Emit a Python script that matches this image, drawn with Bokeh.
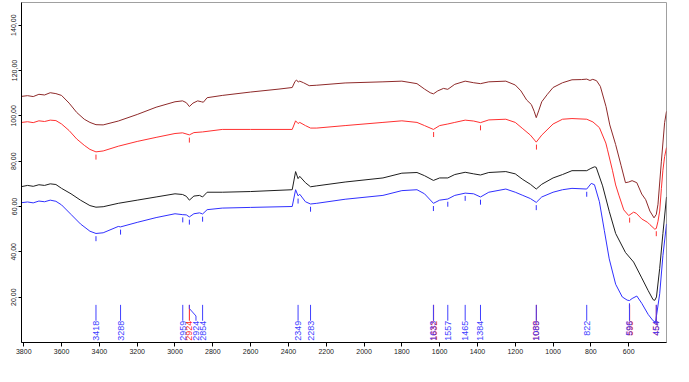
import numpy as np
from bokeh.plotting import figure
from bokeh.models import Range1d, FixedTicker, CustomJSTickFormatter
from bokeh.embed import file_html
from bokeh.resources import INLINE
from bokeh.core.properties import value

# ---------------- data ----------------
wn_brown = [3810, 3780, 3750, 3720, 3690, 3660, 3630, 3600, 3560, 3520, 3480, 3450, 3418, 3380,
            3300, 3200, 3100, 3000, 2960, 2940, 2924, 2905, 2880, 2860, 2850, 2830, 2750, 2600,
            2450, 2380, 2365, 2357, 2348, 2340, 2320, 2290, 2250, 2100, 1900, 1800, 1720, 1680,
            1650, 1633, 1610, 1580, 1557, 1520, 1465, 1420, 1384, 1340, 1250, 1200, 1170, 1140,
            1115, 1100, 1089, 1075, 1060, 1030, 1000, 950, 900, 850, 822, 805, 790, 770, 750,
            720, 700, 669, 640, 617, 600, 582, 557, 531, 510, 488, 466, 454, 445, 427, 410, 400]
val_brown = [108.6, 108.9, 108.5, 109.5, 109.2, 110.2, 109.8, 109.0, 105.6, 101.5, 98.5, 97.1, 96.1, 96.0,
             97.7, 100.6, 103.8, 106.2, 106.6, 105.8, 104.1, 105.6, 106.6, 106.2, 106.0, 108.0, 109.0, 110.5,
             111.8, 112.5, 115.2, 115.8, 114.9, 115.3, 114.6, 113.3, 113.5, 114.5, 115.0, 115.3, 114.2, 111.8,
             110.2, 109.7, 111.0, 112.1, 111.7, 113.9, 115.3, 114.6, 114.2, 115.0, 115.3, 113.6, 111.0, 107.0,
             105.0, 102.0, 99.2, 102.5, 106.2, 109.5, 112.5, 114.6, 115.9, 116.0, 116.2, 115.6, 116.1, 115.5, 113.0,
             104.1, 96.0, 87.3, 78.0, 70.5, 70.8, 71.4, 70.5, 65.5, 63.0, 58.0, 55.0, 56.5, 61.0, 80.0, 97.0, 102.0]

wn_red = [3810, 3780, 3750, 3720, 3690, 3660, 3630, 3600, 3560, 3520, 3480, 3450, 3418, 3380,
          3300, 3200, 3100, 3000, 2960, 2924, 2900, 2854, 2750, 2600, 2380, 2362, 2349, 2340,
          2310, 2283, 2250, 2100, 1900, 1800, 1720, 1680, 1633, 1600, 1557, 1520, 1465, 1420,
          1384, 1340, 1250, 1200, 1160, 1120, 1089, 1060, 1000, 950, 900, 822, 789, 755, 721,
          712, 686, 669, 652, 626, 600, 574, 560, 531, 500, 488, 462, 454, 445, 436, 427, 419, 410, 400]
val_red = [97.1, 97.4, 97.0, 97.8, 97.5, 98.1, 97.9, 96.4, 93.5, 89.8, 87.0, 85.2, 84.1, 84.5,
           86.6, 88.7, 90.5, 92.2, 92.5, 91.6, 92.6, 92.9, 94.0, 94.0, 94.0, 97.8, 96.6, 97.1,
           95.7, 94.6, 94.6, 95.7, 97.1, 97.8, 97.1, 95.7, 94.0, 95.7, 96.4, 97.1, 98.1, 97.7,
           97.0, 98.2, 98.5, 97.1, 94.3, 91.5, 88.4, 91.5, 96.4, 98.5, 98.8, 98.5, 97.3, 94.8, 88.0,
           85.0, 76.0, 69.5, 65.0, 58.5, 56.0, 57.5, 57.0, 54.5, 53.0, 52.0, 50.0, 50.3, 53.5, 58.0, 68.0, 76.0, 82.0, 86.0]

wn_black = [3810, 3780, 3750, 3720, 3690, 3660, 3630, 3600, 3550, 3500, 3450, 3418, 3380, 3300,
            3200, 3100, 3000, 2960, 2940, 2924, 2900, 2870, 2854, 2830, 2750, 2600, 2380, 2362,
            2349, 2340, 2310, 2283, 2250, 2100, 1900, 1800, 1720, 1680, 1633, 1600, 1557, 1520,
            1465, 1420, 1384, 1340, 1250, 1200, 1160, 1120, 1089, 1060, 1000, 950, 900, 822, 800,
            781, 772, 738, 703, 669, 617, 574, 531, 497, 471, 462, 453, 436, 419, 400]
val_black = [68.8, 69.3, 68.9, 69.6, 69.3, 70.0, 69.7, 68.0, 65.6, 62.8, 60.4, 59.7, 59.9, 61.4,
             62.8, 64.2, 65.6, 65.3, 64.5, 62.8, 64.6, 64.9, 64.2, 66.3, 66.3, 66.6, 67.4, 75.4,
             72.3, 73.3, 70.5, 68.7, 69.1, 70.8, 72.6, 74.7, 75.0, 73.6, 71.5, 72.6, 72.6, 74.1,
             75.1, 74.4, 73.9, 75.0, 75.4, 74.4, 71.9, 69.8, 67.7, 69.8, 72.6, 74.1, 75.8, 75.8, 76.8,
             77.5, 77.3, 69.1, 57.9, 48.1, 39.7, 35.5, 28.5, 22.9, 18.9, 18.6, 20.1, 32.7, 48.1, 64.2]

wn_blue = [3810, 3780, 3750, 3720, 3690, 3660, 3630, 3600, 3550, 3500, 3450, 3418, 3380, 3300,
           3288, 3200, 3100, 3000, 2959, 2940, 2924, 2900, 2870, 2854, 2830, 2750, 2600, 2380,
           2362, 2349, 2340, 2310, 2283, 2250, 2100, 1900, 1800, 1720, 1680, 1633, 1600, 1557,
           1520, 1465, 1420, 1384, 1340, 1250, 1200, 1160, 1120, 1089, 1060, 1000, 950, 900, 822,
           798, 781, 755, 729, 703, 669, 634, 608, 596, 582, 557, 531, 497, 471, 458, 436, 419, 400]
val_blue = [61.7, 62.0, 61.6, 62.4, 62.1, 62.8, 62.3, 60.7, 56.5, 52.3, 49.1, 48.1, 48.4, 51.2,
            51.0, 53.0, 55.1, 56.8, 56.4, 56.3, 55.4, 56.8, 57.2, 56.7, 58.6, 59.3, 59.6, 60.0,
            67.4, 64.7, 65.4, 62.1, 61.1, 61.4, 63.2, 64.9, 67.0, 67.4, 65.6, 61.4, 62.8, 63.3,
            64.9, 65.9, 65.6, 64.2, 66.3, 67.7, 66.3, 64.9, 63.5, 61.8, 64.2, 66.3, 67.4, 68.0, 67.7,
            70.2, 69.6, 62.1, 49.5, 36.9, 25.7, 20.1, 18.7, 18.5, 19.4, 20.5, 17.3, 12.4, 9.6, 8.9, 21.5, 38.3, 52.3]

peaks_red = [3418, 2924, 1632, 1384, 1088, 595, 454]
peaks_red_labelled = [2924, 1632, 1088, 595, 454]
peaks_blue = [3418, 3288, 2959, 2924, 2854, 2349, 2283, 1633, 1557, 1465, 1384, 1089, 822, 596, 454]

x_ticks = [3800, 3600, 3400, 3200, 3000, 2800, 2600, 2400, 2200, 2000, 1800, 1600, 1400, 1200, 1000, 800, 600]
y_ticks = [20, 40, 60, 80, 100, 120, 140]

# ---------------- styles ----------------
C_BROWN = "#8e2a2a"
C_RED = "#ff3030"
C_BLACK = "#1e1e1e"
C_BLUE = "#3030ff"
C_LBL_BLUE = "#4040ff"
C_LBL_RED = "#ff2020"

ANNOT_TOP = 16.6
ANNOT_BOTTOM = 9.6
MARK_GAP = 1.2
MARK_LEN = 2.2
BLUE_LABEL_SHIFT = {2924: -35}

p = figure(width=673, height=366, output_backend="svg", toolbar_location=None,
           x_range=Range1d(3812, 400), y_range=Range1d(0, 150),
           min_border_left=21, min_border_right=7, min_border_top=2, min_border_bottom=24)
p.background_fill_color = "white"
p.border_fill_color = "white"
p.outline_line_color = "#a0a0a0"
p.xgrid.visible = False
p.ygrid.visible = False

for ax in (p.xaxis, p.yaxis):
    ax.axis_line_color = "black"
    ax.major_tick_line_color = "black"
    ax.minor_tick_line_color = None
    ax.major_tick_in = 0
    ax.major_label_text_font = "Liberation Sans"
    ax.major_label_text_font_size = "7px"
    ax.major_label_text_color = "#202020"

p.xaxis.ticker = FixedTicker(ticks=x_ticks)
p.xaxis.major_tick_out = 4
p.xaxis.major_label_standoff = 2
p.yaxis.ticker = FixedTicker(ticks=y_ticks)
p.yaxis.major_tick_out = 3
p.yaxis.major_label_standoff = 2
p.yaxis.major_label_orientation = "vertical"
p.yaxis.formatter = CustomJSTickFormatter(code="return tick.toFixed(2).replace('.', ',');")

curves = [(wn_brown, val_brown, C_BROWN), (wn_red, val_red, C_RED),
          (wn_black, val_black, C_BLACK), (wn_blue, val_blue, C_BLUE)]
for wn, v, c in curves:
    p.line(wn, v, line_color=c, line_width=1)


def curve_at(wn, v, x):
    order = np.argsort(wn)
    return float(np.interp(x, np.asarray(wn)[order], np.asarray(v)[order]))


def peak_marks(wn, v, peaks, color):
    ys = [curve_at(wn, v, pk) for pk in peaks]
    p.segment(x0=peaks, y0=[y - MARK_GAP for y in ys], x1=peaks,
              y1=[y - MARK_GAP - MARK_LEN for y in ys], line_color=color, line_width=1)


peak_marks(wn_red, val_red, peaks_red, C_RED)
peak_marks(wn_blue, val_blue, peaks_blue, C_BLUE)


def annotations(peaks, color, shifts):
    xs, ys, lx = [], [], []
    for pk in peaks:
        s = shifts.get(pk, 0)
        if s:
            xs.append([pk, pk, pk + s, pk + s])
            ys.append([ANNOT_TOP, ANNOT_TOP - 1.6, ANNOT_BOTTOM + 2.1, ANNOT_BOTTOM])
        else:
            xs.append([pk, pk])
            ys.append([ANNOT_TOP, ANNOT_BOTTOM])
        lx.append(pk + s)
    p.multi_line(xs, ys, line_color=color, line_width=1)
    p.text(x=lx, y=[ANNOT_BOTTOM] * len(lx), text=[str(pk) for pk in peaks],
           angle=np.pi / 2, text_align="right", text_baseline="middle",
           text_font=value("Liberation Sans"), text_font_size="9px", text_color=color)


annotations(peaks_red_labelled, C_LBL_RED, {})
annotations(peaks_blue, C_LBL_BLUE, BLUE_LABEL_SHIFT)

open("out.html", "w").write(file_html(p, INLINE))
